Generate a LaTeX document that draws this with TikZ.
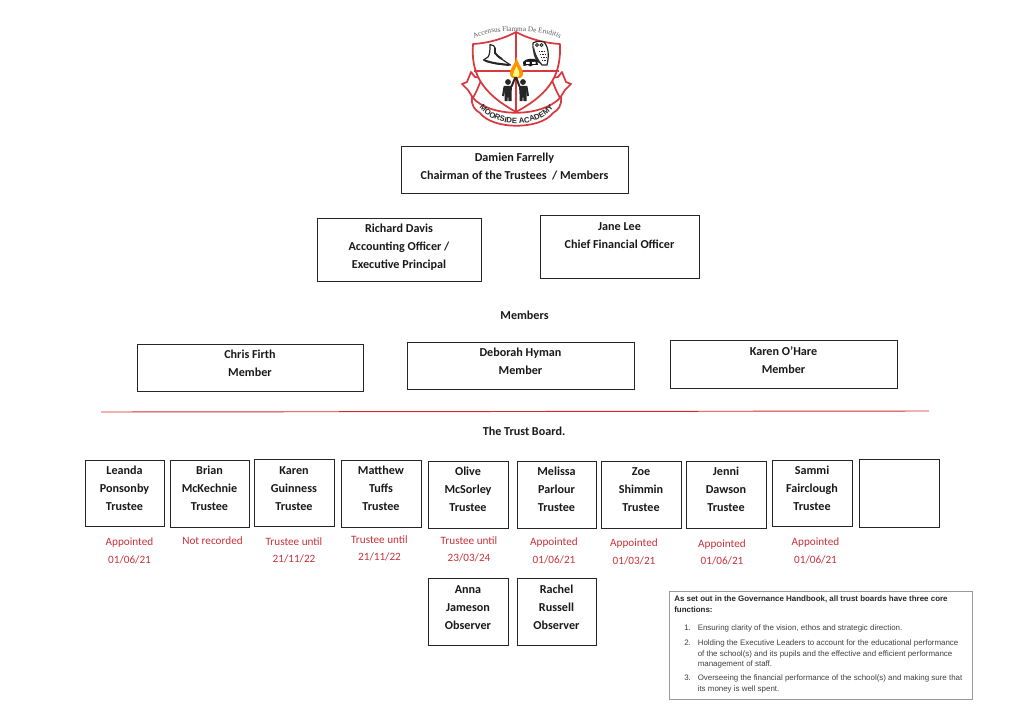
\documentclass[tikz,border=0pt]{standalone}
\usepackage{fontspec}
\setmainfont{Carlito}
\newfontfamily\armfont{Liberation Sans}
\newfontfamily\serfont{Liberation Serif}
\usetikzlibrary{decorations.text}
\definecolor{rd}{HTML}{D9262C}
\definecolor{lbl}{HTML}{C8323A}
\definecolor{logored}{HTML}{D8393F}
\tikzset{
 box/.style={draw=black!85,line width=0.65pt,inner sep=0pt},
 head/.style={inner sep=0pt,align=center,font=\bfseries\fontsize{9.1}{13.5}\selectfont,text=black!90},
 note/.style={inner sep=0pt,align=center,text=lbl,font=\fontsize{8.4}{13}\selectfont},
 hb/.style={inner sep=0pt,anchor=north west,align=left,text=black!75,font=\armfont\fontsize{5.95}{8}\selectfont},
 hbh/.style={inner sep=0pt,anchor=north west,align=left,text=black!85,font=\armfont\bfseries\fontsize{5.95}{8.3}\selectfont},
 person/.style={fill=black!85,draw=none},
 limb/.style={draw=black!85,line width=1.5pt},
 crest/.style={draw=logored,line width=1.3pt,line join=round},
 sketch/.style={draw=black!85,fill=white,line width=0.9pt,line join=round}
}
% x1 y1 x2 y2 name text upward-shift
\newcommand{\bx}[7]{\node[box,minimum width=#3*0.75pt-#1*0.75pt,minimum height=#4*0.75pt-#2*0.75pt] (#5) at ({(#1+#3)/2},{(#2+#4)/2}) {};
\node[head] (#5t) at ({(#1+#3)/2},{(#2+#4)/2-#7}) {#6};}
\begin{document}
\begin{tikzpicture}[x=0.75pt,y=-0.75pt]
\useasboundingbox (0,0) rectangle (1024,724);
\fill[white] (0,0) rectangle (1024,724);
% crest: ribbon tails
\draw[crest,fill=white] (462,84) -- (467,82) -- (471,72) -- (475,77) -- (482,78) -- (477,90) -- (473,98) -- (468,90) -- cycle;
\draw[crest,fill=white] (571,84) -- (566,82) -- (562,72) -- (558,77) -- (551,78) -- (556,90) -- (560,98) -- (565,90) -- cycle;
% shield
\draw[crest,fill=white] (473,44) .. controls (490,43) and (505,38) .. (516,32) .. controls (527,38) and (543,43) .. (560,44) .. controls (561,72) and (553,92) .. (516,112) .. controls (480,92) and (471,72) .. (473,44) -- cycle;
\draw[crest] (474,71) -- (559,71);
\draw[crest] (516,32) -- (516,112);
% ribbon
\draw[crest,fill=white] (472,97) .. controls (490,118) and (542,118) .. (561,97) .. controls (562,106) and (558,110) .. (553,113) .. controls (540,130) and (493,130) .. (480,113) .. controls (475,110) and (471,106) .. (472,97) -- cycle;
% flame
\fill[orange!85!yellow] (516.5,57) .. controls (518,65) and (524,69) .. (523,75) .. controls (522,80) and (511,80) .. (510,75) .. controls (509,69) and (515,65) .. (516.5,57) -- cycle;
\fill[yellow!50] (516.5,66) .. controls (518,70) and (520,72) .. (519.5,75) .. controls (518,78) and (514,78) .. (513,75) .. controls (513,72) and (515,70) .. (516.5,66) -- cycle;
% seal
\draw[sketch] (490,44.5) .. controls (493,45) and (495,46) .. (495,48) -- (495,53) .. controls (498,57) and (503,60) .. (510.5,65) -- (498,64) .. controls (493,63) and (488,62) .. (483.5,60) -- (488,57) .. controls (490,54) and (490,50) .. (490,44.5) -- cycle;
\draw[black!85,line width=1.5pt] (485,60.5) .. controls (491,63) and (500,64) .. (509,65);
\draw[black!85,line width=1.4pt] (495,48) -- (495,53) .. controls (497,56) and (499,57) .. (502,59);
% owl
\draw[sketch] (533,43) .. controls (536,41) and (541,41) .. (544,42) .. controls (549,48) and (549,56) .. (547,65) -- (542,65) .. controls (536,58) and (532,50) .. (533,43) -- cycle;
\fill[black!80] (534,47) .. controls (535,53) and (538,59) .. (541,64) -- (537,62) .. controls (534,57) and (532,52) .. (534,47) -- cycle;
\draw[black!85,line width=0.6pt] (537,45) circle (1.5) (541.5,45) circle (1.5);
\draw[black!85,line width=0.55pt,dash pattern=on 1pt off 0.8pt] (539,51) -- (546,51) (540,54) -- (546,54) (541,57) -- (546,57) (542,60) -- (546,60);
% book
\fill[black!90] (523,62) .. controls (526,58) and (534,58) .. (537,60) -- (538,65) -- (533,65) .. controls (531,67) and (529,67) .. (528,65) -- (523.5,66) -- cycle;
\fill[white] (526,62) rectangle (529.5,64) (532,62) rectangle (535.5,64);
% people
\fill[person] (508,82) circle (2.9) (523,82) circle (2.9);
\fill[person] (504,86) -- (512,86) -- (511.5,94) -- (511.5,101) -- (508.5,101) -- (508,94) -- (507.5,101) -- (504.5,101) -- (504.5,94) -- cycle;
\fill[person] (519,86) -- (527,86) -- (526.5,94) -- (526.5,101) -- (523.5,101) -- (523,94) -- (522.5,101) -- (519.5,101) -- (519.5,94) -- cycle;
\draw[limb] (504.5,86.5) -- (503,96) (526.5,86.5) -- (528,96);
\draw[limb] (511.5,86.5) -- (515.5,77) (519.5,86.5) -- (516,77);
% curved texts
\path[postaction={decorate,decoration={text along path,text align=center,text={|\serfont\fontsize{5.4}{6}\selectfont\color{black!65}|Accensus Flamma De Eruditis}}}] (475,38) .. controls (490,29) and (541,29) .. (559,38);
\path[postaction={decorate,decoration={text along path,text align=center,text={|\armfont\bfseries\fontsize{5.8}{6}\selectfont\color{black!85}|MOORSIDE ACADEMY}}}] (477,104) .. controls (492,130) and (541,130) .. (556,104);
% boxes
\bx{401}{146}{628}{193}{chair}{Damien Farrelly\\Chairman of the Trustees~ / Members}{3}
\bx{317}{218}{481}{281}{acct}{Richard Davis\\Accounting Officer /\\Executive Principal}{2}
\bx{540}{215}{699}{278}{cfo}{Jane Lee\\Chief Financial Officer}{11}
\node[head] (memh) at (524.5,315) {Members};
\bx{137}{344}{363}{391}{m1}{Chris Firth\\Member}{4}
\bx{407}{342}{634}{389}{m2}{Deborah Hyman\\Member}{4}
\bx{670}{340}{897}{388}{m3}{Karen O’Hare\\Member}{4}
\coordinate (la) at (101,412); \coordinate (lb) at (929,411);
\draw[rd,line width=0.7pt] (la) -- (lb);
\node[head] (tb) at (524,431.5) {The Trust Board.};
\bx{85}{460}{164}{526}{t1}{Leanda\\Ponsonby\\Trustee}{4.5}
\bx{170}{460}{249}{527}{t2}{Brian\\McKechnie\\Trustee}{5}
\bx{254}{459}{334}{526}{t3}{Karen\\Guinness\\Trustee}{4}
\bx{341}{460}{421}{527}{t4}{Matthew\\Tuffs\\Trustee}{5}
\bx{428}{461}{508}{528}{t5}{Olive\\McSorley\\Trustee}{5}
\bx{517}{461}{596}{528}{t6}{Melissa\\Parlour\\Trustee}{5}
\bx{601}{461}{681}{528}{t7}{Zoe\\Shimmin\\Trustee}{5}
\bx{686}{461}{766}{528}{t8}{Jenni\\Dawson\\Trustee}{5}
\bx{772}{460}{852}{526}{t9}{Sammi\\Fairclough\\Trustee}{4.5}
\bx{859}{459}{939}{527}{t10}{}{0}
\bx{428}{578}{508}{645}{o1}{Anna\\Jameson\\Observer}{4}
\bx{517}{578}{596}{645}{o2}{Rachel\\Russell\\Observer}{4}
\node[note] (n1) at (129.5,551) {Appointed\\01/06/21};
\node[note] (n2) at (212.5,541) {Not recorded};
\node[note] (n3) at (294,550.5) {Trustee until\\21/11/22};
\node[note] (n4) at (379.5,548.5) {Trustee until\\21/11/22};
\node[note] (n5) at (469,549.5) {Trustee until\\23/03/24};
\node[note] (n6) at (554,551) {Appointed\\01/06/21};
\node[note] (n7) at (634,552) {Appointed\\01/03/21};
\node[note] (n8) at (722,552.5) {Appointed\\01/06/21};
\node[note] (n9) at (815.5,551) {Appointed\\01/06/21};
% handbook
\node[draw=black!40,line width=0.7pt,minimum width=227.25pt,minimum height=81pt,inner sep=0pt] (hbk) at (820.5,645) {};
\node[hbh] (h0) at (674,595) {As set out in the Governance Handbook, all trust boards have three core\\functions:};
\node[hb] (h1n) at (684,624.5) {\vphantom{Eh}1.};
\node[hb] (h1) at (697.5,624.5) {Ensuring clarity of the vision, ethos and strategic direction.};
\node[hb] (h2n) at (684,639.5) {\vphantom{Eh}2.};
\node[hb] (h2) at (697.5,639.5) {Holding the Executive Leaders to account for the educational performance\\of the school(s) and its pupils and the effective and efficient performance\\management of staff.};
\node[hb] (h3n) at (684,674.5) {\vphantom{Eh}3.};
\node[hb] (h3) at (697.5,674.5) {Overseeing the financial performance of the school(s) and making sure that\\its money is well spent.};
\end{tikzpicture}
\end{document}
